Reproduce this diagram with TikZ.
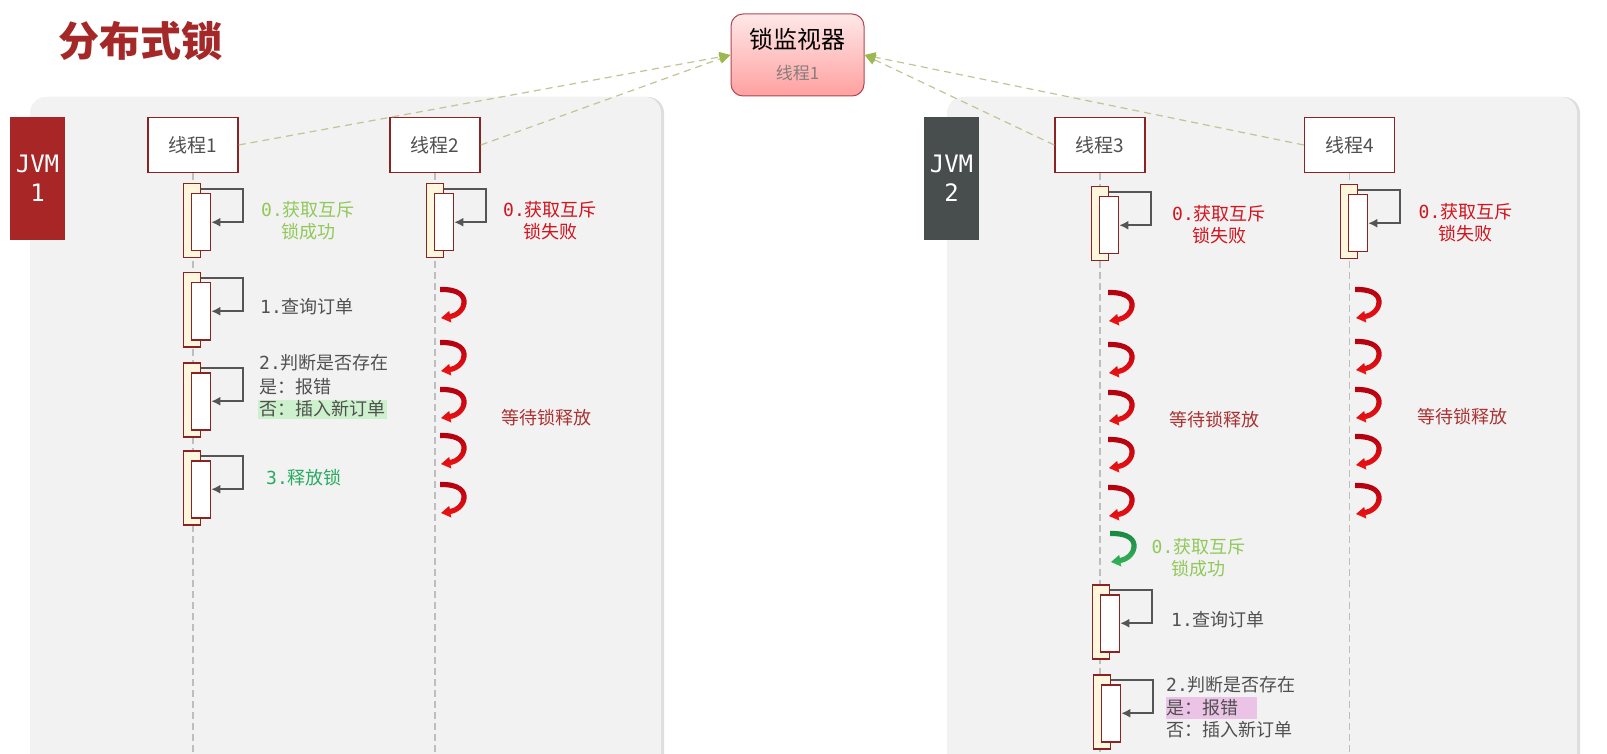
\documentclass[tikz,border=0pt]{standalone}
\usepackage{fontspec}
\setmainfont{Noto Sans CJK SC}
\setmonofont{DejaVu Sans Mono}
\usetikzlibrary{arrows.meta}
\tikzset{>={Latex[length=9pt,width=9pt]}}

\definecolor{boxred}{RGB}{140,35,35}
\definecolor{cream}{RGB}{255,246,222}
\definecolor{txtgray}{RGB}{80,80,80}
\definecolor{linegray}{RGB}{190,190,190}
\definecolor{arrgray}{RGB}{85,85,85}
\definecolor{watchline}{RGB}{195,195,150}
\definecolor{tipgreen}{RGB}{155,185,80}
\definecolor{titlered}{RGB}{165,40,40}
\definecolor{jvmred}{RGB}{168,38,38}
\definecolor{jvmgray}{RGB}{72,77,77}
\definecolor{okgreen}{RGB}{145,200,90}
\definecolor{failred}{RGB}{210,20,30}
\definecolor{waitred}{RGB}{170,50,50}
\definecolor{relgreen}{RGB}{40,170,95}
\definecolor{hlgreen}{RGB}{205,240,205}
\definecolor{hlpink}{RGB}{235,195,230}
\definecolor{panelgray}{RGB}{242,242,242}
\definecolor{panelshadow}{RGB}{222,222,222}
\definecolor{monbord}{RGB}{175,70,80}
\definecolor{montop}{RGB}{255,232,232}
\definecolor{monbot}{RGB}{255,160,160}
\definecolor{mongray}{RGB}{135,125,125}
\definecolor{curltop}{RGB}{175,0,15}
\definecolor{curlbot}{RGB}{240,20,20}
\definecolor{gcurltop}{RGB}{25,135,65}
\definecolor{gcurlbot}{RGB}{55,180,90}

% activation bar with a self call: name, lifeline x, top y
\newcommand{\actbar}[3]{%
  \node[outerbar, anchor=north] (#1o) at (#2,#3) {};
  \node[innerbar, anchor=north west] (#1i) at ([xshift=8pt,yshift=-10pt]#1o.north west) {};
  \draw[selfcall] ([yshift=-6pt]#1o.north east) -- ++(42pt,0) |- (#1i.east);
}

\begin{document}
\begin{tikzpicture}[x=1pt,y=-1pt,
    thread/.style={draw=boxred, line width=1.5pt, fill=white, minimum width=90pt,
      minimum height=55pt, inner sep=0pt, text=txtgray, font=\fontsize{19}{22}\selectfont},
    jvm/.style={minimum width=55pt, minimum height=123pt, inner sep=0pt, text=white,
      align=center, font=\ttfamily\fontsize{24}{29}\selectfont},
    monitor/.style={draw=monbord, line width=1pt, rounded corners=12pt, top color=montop,
      bottom color=monbot, minimum width=133pt, minimum height=82pt, align=center,
      font=\fontsize{24}{31}\selectfont},
    watch/.style={draw=watchline, line width=1.2pt, dash pattern=on 7pt off 5pt,
      -{Triangle[length=11pt,width=10pt,color=tipgreen]}},
    lifeline/.style={draw=linegray, line width=1.5pt, dash pattern=on 7pt off 4pt},
    outerbar/.style={draw=boxred, line width=1.5pt, fill=cream, minimum width=17pt,
      minimum height=74pt, inner sep=0pt},
    innerbar/.style={draw=boxred, line width=1.5pt, fill=white, minimum width=19pt,
      minimum height=57pt, inner sep=0pt},
    selfcall/.style={draw=arrgray, line width=2pt, ->},
    steptext/.style={inner sep=0pt, text=txtgray, font=\fontsize{18}{22}\selectfont},
    redcurl/.style={top color=curltop, bottom color=curlbot},
    greencurl/.style={top color=gcurltop, bottom color=gcurlbot},
    curl/.pic={\shade[#1] (0,0) .. controls (20,-1) and (28,8) .. (26.5,17)
      .. controls (25,26) and (17,31) .. (10.6,32) -- (11.3,35.5) -- (1,31) -- (9.2,24) -- (9.8,27)
      .. controls (16,26) and (21.5,21) .. (21.5,15) .. controls (21.5,8) and (14,5) .. (0,5) -- cycle;}
  ]
  \useasboundingbox (0,0) rectangle (1607,754);

  % two JVM panels
  \fill[panelshadow, rounded corners=16pt] (33,97) rectangle (664,800);
  \fill[panelgray, rounded corners=16pt] (30,97) rectangle (661,800);
  \fill[panelshadow, rounded corners=16pt] (950,97) rectangle (1580,800);
  \fill[panelgray, rounded corners=16pt] (947,97) rectangle (1577,800);

  \node[font=\fontsize{41}{41}\selectfont\bfseries, text=titlered] (title) at (140.5,41) {分布式锁};
  \node[jvm, fill=jvmred] (jvm1) at (37.5,178.5) {JVM\\1};
  \node[jvm, fill=jvmgray] (jvm2) at (951.5,178.5) {JVM\\2};

  \node[monitor] (mon) at (797.5,55) {锁监视器\\{\fontsize{17}{31}\selectfont\color{mongray}线程1}};

  \node[thread] (t1) at (193,145) {线程1};
  \node[thread] (t2) at (435,145) {线程2};
  \node[thread] (t3) at (1100,145) {线程3};
  \node[thread] (t4) at (1349.5,145) {线程4};

  \draw[watch] (t1.east) -- (mon.west);
  \draw[watch] (t2.east) -- (mon.west);
  \draw[watch] (t3.west) -- (mon.east);
  \draw[watch] (t4.west) -- (mon.east);

  \coordinate (bottom) at (0,760);
  \foreach \t in {t1,t2,t3,t4}
    \draw[lifeline] (\t.south) -- (\t.south |- bottom);

  % thread 1 gets the lock
  \actbar{a10}{192}{183}
  \actbar{a11}{192}{272}
  \actbar{a12}{192}{362}
  \actbar{a13}{192}{450}
  \node[steptext, text=okgreen, align=center] (l10) at (308,221) {{\ttfamily 0.}获取互斥\\锁成功};
  \node[steptext, anchor=west] (l11) at (260,307) {{\ttfamily 1.}查询订单};
  \node[steptext, anchor=west] (l12a) at (259,363) {{\ttfamily 2.}判断是否存在};
  \node[steptext, anchor=west] (l12b) at (259,387) {是：报错};
  \node[steptext, anchor=west, fill=hlgreen, minimum height=19pt, inner xsep=1.5pt] (l12c) at (257.5,409) {否：插入新订单};
  \node[steptext, anchor=west, text=relgreen] (l13) at (266,478) {{\ttfamily 3.}释放锁};

  % thread 2 waits
  \actbar{a20}{435}{183}
  \node[steptext, text=failred, align=center] (l20) at (550,221) {{\ttfamily 0.}获取互斥\\锁失败};
  \foreach \y in {287,340,387,433,482}
    \pic at (440,\y) {curl=redcurl};
  \node[steptext, text=waitred] (w2) at (546.5,418) {等待锁释放};

  % thread 3 waits, then gets the lock
  \actbar{a30}{1100}{186}
  \node[steptext, text=failred, align=center] (l30) at (1219,225) {{\ttfamily 0.}获取互斥\\锁失败};
  \foreach \y in {290,342,390,437,485}
    \pic at (1108,\y) {curl=redcurl};
  \node[steptext, text=waitred] (w3) at (1214.5,420) {等待锁释放};
  \pic at (1110,531) {curl=greencurl};
  \node[steptext, text=okgreen, align=center] (l31) at (1198.5,557.5) {{\ttfamily 0.}获取互斥\\锁成功};
  \actbar{a31}{1101}{584}
  \node[steptext, anchor=west] (l32) at (1171,620) {{\ttfamily 1.}查询订单};
  \actbar{a32}{1102}{674}
  \node[steptext, anchor=west] (l33a) at (1166,685) {{\ttfamily 2.}判断是否存在};
  \node[steptext, anchor=west, fill=hlpink, minimum height=22pt, text width=91pt, align=left] (l33b) at (1166,708) {是：报错};
  \node[steptext, anchor=west] (l33c) at (1166,730) {否：插入新订单};

  % thread 4 waits
  \actbar{a40}{1349}{184}
  \node[steptext, text=failred, align=center] (l40) at (1465.5,222.5) {{\ttfamily 0.}获取互斥\\锁失败};
  \foreach \y in {287,339,387,434,483}
    \pic at (1355,\y) {curl=redcurl};
  \node[steptext, text=waitred] (w4) at (1462.5,417) {等待锁释放};
\end{tikzpicture}
\end{document}
